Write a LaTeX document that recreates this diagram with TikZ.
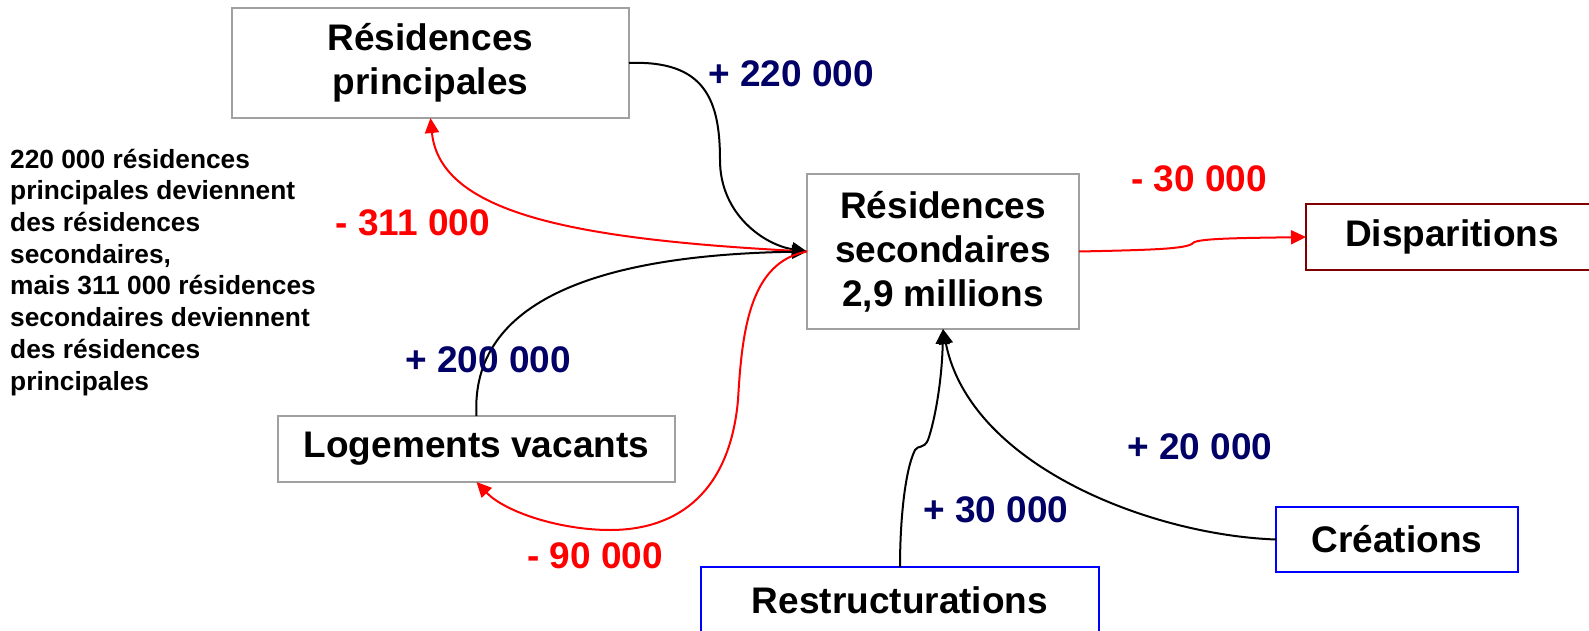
\documentclass[tikz,border=0pt]{standalone}
\usepackage{fontspec}
\setmainfont{Liberation Sans}
\usetikzlibrary{arrows.meta}
\definecolor{navy}{RGB}{0,0,102}
\definecolor{boxgray}{RGB}{160,160,160}
\definecolor{darkred}{RGB}{128,0,0}
\begin{document}
\begin{tikzpicture}[x=1pt,y=-1pt,
  box/.style={draw=boxgray,line width=2pt,inner sep=0pt,outer sep=0pt,align=center,font=\bfseries\fontsize{37}{44}\selectfont},
  bluebox/.style={box,draw=blue},
  redbox/.style={box,draw=darkred},
  numlabel/.style={font=\bfseries\fontsize{37}{44}\selectfont,inner sep=0pt},
  poslabel/.style={numlabel,text=navy},
  neglabel/.style={numlabel,text=red},
  blk/.style={line width=2pt,-{Triangle[length=15pt,width=14pt]}},
  rd/.style={blk,draw=red}
]
\useasboundingbox (0,0) rectangle (1589,631);
\clip (0,0) rectangle (1589,631);

\node[box, minimum width=397pt, minimum height=110pt] (rp) at (430.5,63) {Résidences\\principales};
\node[box, minimum width=272pt, minimum height=155pt] (sec) at (943,251.5) {Résidences\\secondaires\\2,9 millions};
\node[redbox, minimum width=292pt, minimum height=66pt] (dis) at (1452,237) {Disparitions};
\node[box, minimum width=397pt, minimum height=66pt] (lv) at (476.5,449) {Logements vacants};
\node[bluebox, minimum width=398pt, minimum height=66pt] (rs) at (900,600) {Restructurations};
\node[bluebox, minimum width=242pt, minimum height=65pt] (cr) at (1397,539.5) {Créations};

\node[anchor=base west, align=left, inner sep=0pt, font=\bfseries\fontsize{26.3}{31.7}\selectfont] (note) at (10,390) {220 000 résidences\\principales deviennent\\des résidences\\secondaires,\\mais 311 000 résidences\\secondaires deviennent\\des résidences\\principales};

\draw[blk] (rp.east) .. controls (705,60) and (720,100) .. (720,160) .. controls (720,215) and (765,245) .. (sec.west);
\draw[rd] (sec.west) .. controls (580,240) and (440,215) .. (rp.south);
\draw[blk] (lv.north) .. controls (470,300) and (600,255) .. (sec.west);
\draw[rd] (sec.west) .. controls (750,262) and (742,330) .. (738,400) .. controls (730,490) and (680,530) .. (610,530) .. controls (560,530) and (505,512) .. (lv.south);
\draw[blk] (rs.north) .. controls (900,520) and (905,470) .. (915,450) .. controls (918,445) and (924,449) .. (928,440) .. controls (935,420) and (942,380) .. (sec.south);
\draw[blk] (cr.west) .. controls (1150,535) and (970,465) .. (sec.south);
\draw[rd] (sec.east) .. controls (1150,250) and (1188,249) .. (1193,243) .. controls (1197,238) and (1250,238) .. (dis.west);

\node[poslabel] (l220) at (791,74) {+ 220 000};
\node[neglabel] (l30m) at (1199,179) {- 30 000};
\node[neglabel] (l311) at (413,223) {- 311 000};
\node[poslabel] (l200) at (488,360) {+ 200 000};
\node[poslabel] (l20) at (1200,447) {+ 20 000};
\node[poslabel] (l30) at (996,510) {+ 30 000};
\node[neglabel] (l90) at (595,556) {- 90 000};
\end{tikzpicture}
\end{document}
